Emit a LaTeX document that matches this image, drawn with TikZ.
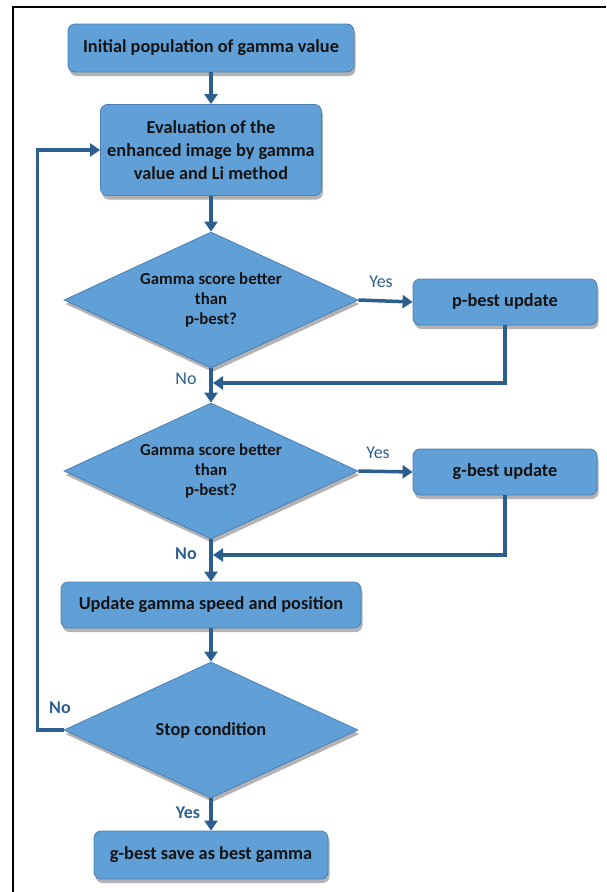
\documentclass[tikz,border=0pt]{standalone}
\usepackage{fontspec}
\setmainfont{Carlito}
\usetikzlibrary{shapes.geometric,shadows,arrows.meta}
\definecolor{boxfill}{HTML}{619FD7}
\definecolor{boxline}{HTML}{4A80B8}
\definecolor{flowblue}{HTML}{2D5F8E}
\begin{document}
\begin{tikzpicture}[x=1pt,y=-1pt]
	\useasboundingbox (0,0) rectangle (606,892);
	\tikzstyle{block} = [draw=boxline, fill=boxfill, rounded corners=7pt, line width=0.8pt, align=center, inner sep=0pt, text=black!92, font=\bfseries\fontsize{18.3}{23}\selectfont, drop shadow={opacity=0.6, shadow xshift=1.5pt, shadow yshift=-4pt}];
	\tikzstyle{decision} = [block, diamond, aspect=2.16, rounded corners=0pt, minimum width=294pt, minimum height=136pt, font=\bfseries\fontsize{16.8}{20}\selectfont];
	\tikzstyle{arrowline} = [draw=flowblue, line width=3.5pt, -{Triangle[length=10pt,width=13pt]}];
	\tikzstyle{plain} = [text=flowblue, inner sep=0pt, font=\fontsize{18}{20}\selectfont];
	% frame
	\draw[line width=2.5pt] (13,7) -- (606,7);
	\draw[line width=1.5pt] (13,6) -- (13,892);
	% boxes
	\node[block, minimum width=286pt, minimum height=48pt] (init) at (211,48) {Initial population of gamma value};
	\node[block, minimum width=221pt, minimum height=91pt] (eval) at (211,150) {Evaluation of the\\enhanced image by gamma\\value and Li method};
	\node[decision] (pdec) at (211,300) {Gamma score better\\than\\p-best?};
	\node[block, minimum width=184pt, minimum height=46pt] (pupd) at (505,302) {p-best update};
	\node[decision] (gdec) at (211,471) {Gamma score better\\than\\p-best?};
	\node[block, minimum width=184pt, minimum height=46pt] (gupd) at (505,472) {g-best update};
	\node[block, minimum width=300pt, minimum height=46pt] (move) at (211,605) {Update gamma speed and position};
	\node[decision, font=\bfseries\fontsize{18.3}{22}\selectfont] (stop) at (211,730) {Stop condition};
	\node[block, minimum width=234pt, minimum height=48pt] (save) at (211,855) {g-best save as best gamma};
	% labels
	\node[plain] (yes1) at (381,282) {Yes};
	\node[plain] (no1) at (186,379) {No};
	\node[plain] (yes2) at (378,453) {Yes};
	\node[plain, font=\bfseries\fontsize{18}{20}\selectfont] (no2) at (186,554) {No};
	\node[plain, font=\bfseries\fontsize{18}{20}\selectfont] (no3) at (60,708) {No};
	\node[plain, font=\bfseries\fontsize{18}{20}\selectfont] (yes3) at (188,813) {Yes};
	\coordinate (pjoin) at (213,383);
	\coordinate (gjoin) at (213,555);
	% connectors
	\draw[arrowline] (init) -- (eval);
	\draw[arrowline] (eval) -- (pdec);
	\draw[arrowline] (pdec) -- (gdec);
	\draw[arrowline] (pdec.east) -- (pupd.west);
	\draw[arrowline] (pupd.south) |- (pjoin);
	\draw[arrowline] (gdec) -- (move);
	\draw[arrowline] (gdec.east) -- (gupd.west);
	\draw[arrowline] (gupd.south) |- (gjoin);
	\draw[arrowline] (move) -- (stop);
	\draw[arrowline] (stop) -- (save);
	\draw[arrowline] (stop.west) -- ++(-26,0) |- (eval.west);
\end{tikzpicture}
\end{document}
